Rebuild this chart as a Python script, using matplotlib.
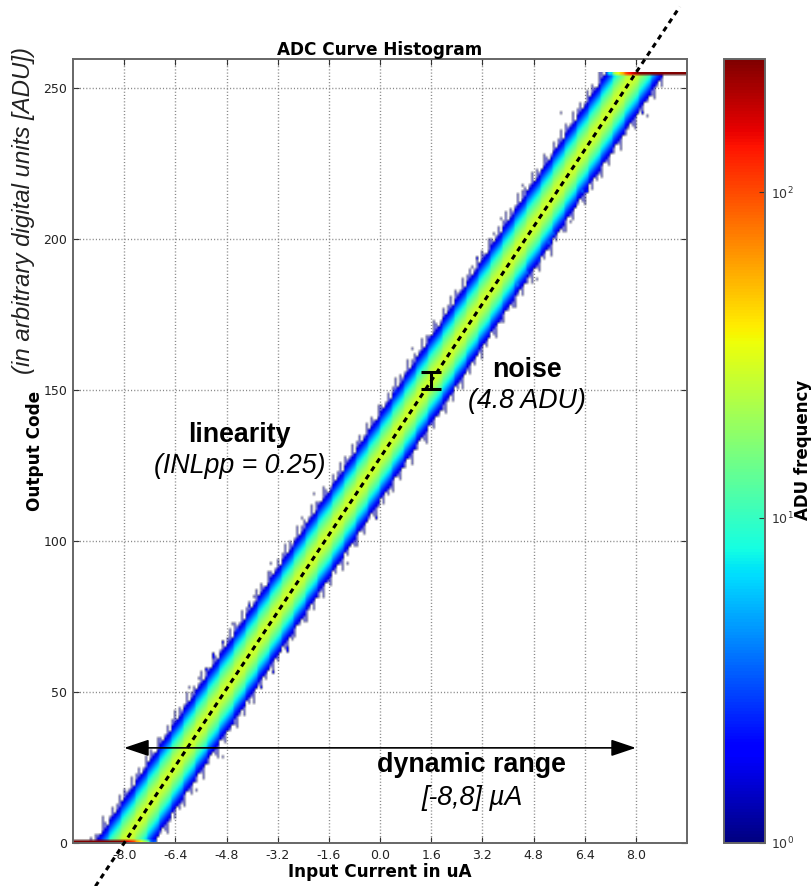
import numpy as np
import matplotlib
matplotlib.use("Agg")
import matplotlib.pyplot as plt
from matplotlib.colors import LogNorm

# counts per bin, by distance (ADU) from the transfer line
offsets = np.arange(-18, 19)
profile = [1.0, 1.05, 1.15, 1.3, 1.6, 2.1, 2.8, 3.8, 5.2, 7.0, 9.0, 11.5, 14.0, 17.0, 20.0, 23.0, 26.0, 27.0,
           28.0, 27.0, 26.0, 23.0, 20.0, 17.0, 14.0, 11.5, 9.0, 7.0, 5.2, 3.8, 2.8, 2.1, 1.6, 1.3, 1.15, 1.05, 1.0]

# how far the band reaches on each side, column by column (repeats along the band)
reach_above = [15, 18, 14, 16, 17, 14, 15, 18, 14, 17, 15, 14, 18, 16, 14, 15, 17, 14, 16, 18, 14, 17, 15]
reach_below = [14, 16, 18, 14, 15, 17, 14, 15, 14, 16, 18, 15, 14, 17, 14, 16, 15, 18, 14, 15, 17, 14, 16, 14, 15, 18, 14, 16, 14]

# lone pale bins outside the band
stray_x = [5.69, 8.22, 8.34, 7.75, -8.66, -4.9, -5.72, -2.03, -2.41, -3.44, -0.09, -1.0, 1.0, 0.47,
           4.44, 3.75, 4.44, 3.59, 2.88, 3.03, 5.94, 6.34, 6.5, 5.47, 5.31, 5.0, 4.59, 4.91, 4.31,
           -4.59, -4.44, -4.94, -5.22, -5.25, -5.47, -5.63, -5.94, -2.88, -2.88, -3.34, -3.69, -3.91, -4.06, -2.75]
stray_y = [241.7, 241.7, 240.0, 236.0, 8.3, 28.8, 17.9, 115.9, 107.6, 92.7, 107.0, 92.0, 163.0, 149.0,
           217.9, 206.6, 215.6, 201.3, 190.7, 193.0, 205.6, 215.2, 215.2, 201.3, 198.7, 192.0, 188.0, 186.8, 184.1,
           72.8, 70.5, 66.2, 62.9, 61.3, 57.9, 54.0, 51.0, 64.9, 63.2, 56.6, 51.7, 81.1, 78.1, 67.2]

x_ticks = [-8.0, -6.4, -4.8, -3.2, -1.6, 0.0, 1.6, 3.2, 4.8, 6.4, 8.0]
y_ticks = [0, 50, 100, 150, 200, 250]
ideal_x = [-8.0, 8.0]
ideal_y = [0, 255]
line_ends_x = [-8.9, 9.375]
noise_x = 1.6
noise_low = 150.4
noise_high = 155.8
cbar_ticks = [1, 10, 100]
cbar_max = 257

x_edges = np.arange(-9.6, 9.6001, 0.075)
y_edges = np.arange(0, 256)
x_mid = (x_edges[:-1] + x_edges[1:]) / 2
y_mid = (y_edges[:-1] + y_edges[1:]) / 2

# histogram: look up the profile, pile everything beyond the range on first/last code
slope = (ideal_y[1] - ideal_y[0]) / (ideal_x[1] - ideal_x[0])
counts = np.zeros((len(y_mid), len(x_mid)))
for i, x in enumerate(x_mid):
    line_y = (x - ideal_x[0]) * slope
    up = reach_above[i % len(reach_above)]
    down = reach_below[i % len(reach_below)]
    for off, c in zip(offsets, profile):
        if off > up or off < -down:
            continue
        code = int(np.clip(np.floor(line_y + off), 0, len(y_mid) - 1))
        counts[code, i] += c
stray_counts, _, _ = np.histogram2d(stray_y, stray_x, bins=[y_edges, x_edges])
counts = counts + stray_counts
# the outermost bins look washed out in the picture, empty ones stay clear
fade = np.where(counts < 0.85, 0.0, np.where(counts < 1.4, 0.55, 1.0))
counts = np.ma.masked_less(counts, 0.85)

fig = plt.figure(figsize=(8.12, 8.86), dpi=100)
ax = fig.add_axes([73 / 812, 1 - 843 / 886, 614 / 812, 784 / 886])
cax = fig.add_axes([724 / 812, 1 - 843 / 886, 41 / 812, 784 / 886])

img = ax.imshow(counts, origin="lower", aspect="auto", extent=[x_edges[0], x_edges[-1], y_edges[0], y_edges[-1]],
                cmap="jet", norm=LogNorm(1, cbar_max), interpolation="bilinear", interpolation_stage="rgba",
                alpha=fade, zorder=2)
ax.set_xlim(-9.6, 9.6)
ax.set_ylim(0, 259.6)
ax.set_xticks(x_ticks)
ax.set_xticklabels(["%.1f" % t for t in x_ticks])
ax.set_yticks(y_ticks)
ax.tick_params(direction="in", labelsize=9, length=4, color="#333333", labelcolor="#222222", pad=4, top=True, right=True)
ax.grid(True, linestyle=(0, (0.8, 1.5)), color="#888888", linewidth=1, zorder=1)
ax.set_axisbelow(True)
for s in ax.spines.values():
    s.set_color("#666666")
    s.set_linewidth(1.4)

ax.set_title("ADC Curve Histogram", fontsize=12.2, fontweight="bold", pad=3)
ax.set_xlabel("Input Current in uA", fontsize=12.2, fontweight="bold", labelpad=1)
ax.set_ylabel("Output Code", fontsize=12.2, fontweight="bold", labelpad=-0.5)

line_y_ends = [(v - ideal_x[0]) * slope for v in line_ends_x]
ax.plot(line_ends_x, line_y_ends, color="black", linewidth=2.2, clip_on=False, dashes=(1.7, 1.5), zorder=3)

ax.errorbar([noise_x], [(noise_low + noise_high) / 2], yerr=[(noise_high - noise_low) / 2],
            color="black", capsize=7, capthick=2.2, elinewidth=2.2, zorder=4)

ax.annotate("", xy=(-8.0, 31.5), xytext=(8.0, 31.5), zorder=4,
            arrowprops=dict(arrowstyle="<|-|>,head_length=0.95,head_width=0.32", color="black", lw=1.2,
                            shrinkA=0, shrinkB=0, mutation_scale=16))

sans = "Liberation Sans"
ax.text(-4.4, 135, "linearity", fontsize=19.3, fontweight="bold", ha="center", va="center", family=sans)
ax.text(-4.4, 124.7, "(INLpp = 0.25)", fontsize=19.3, style="italic", ha="center", va="center", family=sans)
ax.text(4.6, 156.5, "noise", fontsize=19.3, fontweight="bold", ha="center", va="center", family=sans)
ax.text(4.6, 146.5, "(4.8 ADU)", fontsize=19.3, style="italic", ha="center", va="center", family=sans)
ax.text(2.87, 25.7, "dynamic range", fontsize=19.3, fontweight="bold", ha="center", va="center", family=sans)
ax.text(2.87, 15, "[-8,8] µA", fontsize=19.3, style="italic", ha="center", va="center", family=sans)

fig.text(24 / 812, 1 - 211 / 886, "(in arbitrary digital units [ADU])", fontsize=17.3, style="italic",
         rotation=90, ha="center", va="center", family=sans, color="#222222")

cb = fig.colorbar(img, cax=cax, ticks=cbar_ticks, alpha=1)
cb.minorticks_off()
cb.ax.tick_params(labelsize=9, direction="in", color="#333333", labelcolor="#333333", length=4, pad=4)
cb.outline.set_edgecolor("#666666")
cb.outline.set_linewidth(1.4)
fig.text(803 / 812, 1 - 450 / 886, "ADU frequency", fontsize=12, fontweight="bold", rotation=90,
         ha="center", va="center")

fig.savefig("out.png", dpi=100)
